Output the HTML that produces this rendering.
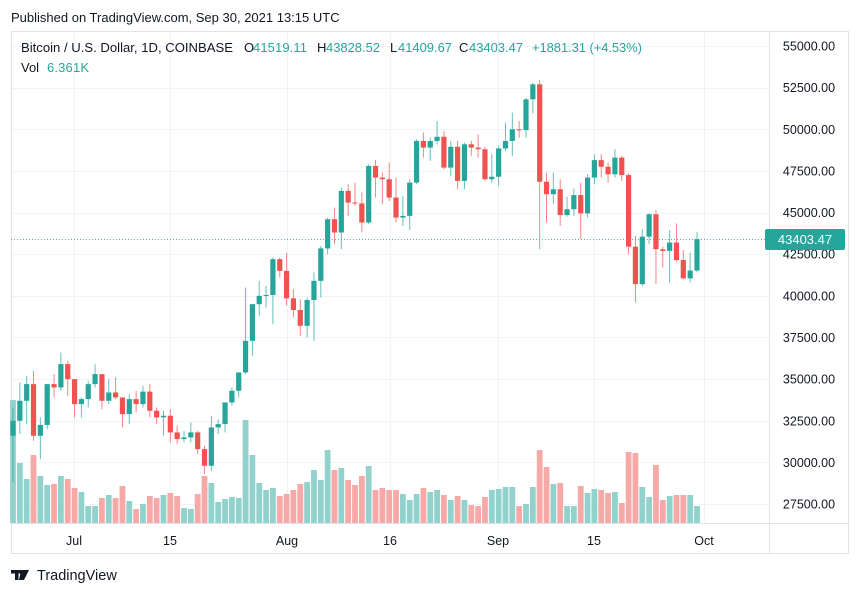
<!DOCTYPE html>
<html><head><meta charset="utf-8"><style>
body{margin:0;background:#fff;width:860px;height:595px;overflow:hidden;font-family:"Liberation Sans","DejaVu Sans",sans-serif;}
svg{position:absolute;left:0;top:0}
</style></head><body>
<svg id="s" width="860" height="595" xmlns="http://www.w3.org/2000/svg" font-family="Liberation Sans, DejaVu Sans, sans-serif">
<text x="11" y="22" font-size="13" fill="#131722">Published on TradingView.com, Sep 30, 2021 13:15 UTC</text>
<g id="grid" stroke="#f0f3fa" stroke-width="1"></g>
<rect x="11.5" y="31.5" width="837" height="522" fill="none" stroke="#e0e3eb"/>
<line x1="769.5" y1="31" x2="769.5" y2="554" stroke="#e0e3eb"/>
<line x1="11" y1="523.5" x2="849" y2="523.5" stroke="#e0e3eb"/>
<line x1="11" y1="239.5" x2="769" y2="239.5" stroke="#26a69a" stroke-dasharray="1,2" opacity="0.8"/>
<g id="vol"></g>
<g id="cdl"></g>
<g font-size="12.5" fill="#131722" id="yl"></g>
<rect x="765" y="229" width="80" height="21" rx="2" fill="#26a69a"/>
<text x="805" y="244" font-size="13" fill="#fff" text-anchor="middle">43403.47</text>
<g font-size="12.5" fill="#131722" text-anchor="middle">
<text x="74" y="545">Jul</text><text x="170" y="545">15</text><text x="287" y="545">Aug</text><text x="390" y="545">16</text><text x="498" y="545">Sep</text><text x="594" y="545">15</text><text x="704" y="545">Oct</text>
</g>
<g font-size="13" fill="#131722">
<text x="21" y="52" textLength="212" lengthAdjust="spacingAndGlyphs">Bitcoin / U.S. Dollar, 1D, COINBASE</text>
<text x="244" y="52">O</text><text x="253" y="52" fill="#26a69a" textLength="54">41519.11</text>
<text x="317" y="52">H</text><text x="326" y="52" fill="#26a69a" textLength="54">43828.52</text>
<text x="390" y="52">L</text><text x="398" y="52" fill="#26a69a" textLength="54">41409.67</text>
<text x="459" y="52">C</text><text x="469" y="52" fill="#26a69a" textLength="54">43403.47</text>
<text x="532" y="52" fill="#26a69a" textLength="110">+1881.31 (+4.53%)</text>
<text x="21" y="72">Vol</text><text x="47" y="72" fill="#26a69a" textLength="42">6.361K</text>
</g>
<g fill="#131722"><rect x="11" y="570" width="10" height="3.5"/><rect x="15" y="570" width="3.5" height="10"/><polygon points="21,570 29,570 24,580 19,580"/></g>
<text x="37" y="580" font-size="14.5" fill="#131722">TradingView</text>
</svg>
<script>
var d=[[31600,33300,28800,32500],[32500,34800,31700,33700],[33700,35200,32300,34700],[34700,35500,31300,31600],[31600,32700,30200,32250],[32250,34700,32000,34700],[34700,35300,33900,34500],[34500,36600,34300,35900],[35900,36100,34000,35000],[35000,35000,32700,33500],[33500,33900,32700,33800],[33800,34900,33300,34700],[34700,35900,34500,35300],[35300,35300,33200,33700],[33700,35000,33500,34200],[34200,35100,33800,33900],[33900,33900,32100,32900],[32900,34100,32300,33800],[33800,34300,33000,33500],[33500,34600,33300,34250],[34250,34700,32700,33100],[33100,33300,32300,32700],[32700,33100,31600,32800],[32800,33200,31200,31800],[31800,32200,31100,31400],[31400,31900,31200,31500],[31500,32400,31200,31800],[31800,31900,30500,30800],[30800,31000,29300,29800],[29800,32800,29500,32100],[32100,32600,31700,32300],[32300,33600,31800,33600],[33600,34500,33400,34300],[34300,35400,33900,35400],[35400,40500,35300,37300],[37300,39500,36400,39500],[39500,40900,38800,40000],[40000,40600,39300,40050],[40050,42300,38300,42200],[42200,42300,41100,41500],[41500,42600,39400,39850],[39850,40400,38700,39150],[39150,39800,37600,38200],[38200,39900,37500,39750],[39750,41400,37300,40900],[40900,43000,39900,42850],[42850,44700,42500,44600],[44600,45300,43100,43800],[43800,46500,42800,46300],[46300,46700,44800,45600],[45600,46800,45400,45550],[45550,46200,43800,44400],[44400,47900,44300,47800],[47800,48150,45900,47100],[47100,47400,45500,47000],[47000,48000,45700,45900],[45900,47100,44400,44700],[44700,46000,44200,44800],[44800,47000,43950,46800],[46800,49400,46700,49300],[49300,49800,48300,48900],[48900,49500,48100,49300],[49300,50500,49100,49550],[49550,49900,47600,47700],[47700,49300,47200,48950],[48950,49300,46400,46900],[46900,49200,46400,49100],[49100,49300,48400,48900],[48900,49700,48300,48800],[48800,48950,46900,47000],[47000,48500,46800,47150],[47150,49000,46600,48850],[48850,50400,48700,49300],[49300,51000,48400,50000],[50000,50500,49500,49950],[49950,51900,49500,51800],[51800,52800,50950,52700],[52700,52950,42800,46850],[46850,47400,44400,46100],[46100,47400,45500,46400],[46400,47000,44200,44850],[44850,45950,44750,45200],[45200,46450,44800,46050],[46050,46800,43400,44950],[44950,47300,44700,47100],[47100,48500,46700,48150],[48150,48500,47100,47750],[47750,48000,46800,47300],[47300,48800,47100,48300],[48300,48400,46900,47250],[47250,47350,42500,42950],[42950,43600,39600,40700],[40700,44000,40600,43550],[43550,44950,43100,44900],[44900,45150,40700,42800],[42800,42950,41700,42700],[42700,43950,40800,43200],[43200,44350,42050,42150],[42150,42750,41000,41050],[41050,42600,40800,41520],[41519,43828,41409,43403]];
var v=[400,463,479,455,476,485,484,476,479,488,492,506,506,498,495,498,486,501,509,504,496,498,495,493,496,508,509,494,476,483,502,499,497,498,420,455,483,490,488,496,494,490,484,482,470,480,450,470,468,480,485,476,466,490,488,490,490,494,500,494,488,492,490,495,500,496,500,505,506,497,490,489,487,487,506,504,487,450,467,484,483,506,506,486,493,489,490,493,492,503,452,453,487,497,465,500,496,495,495,495,506];
function Y(p){return 46+(55000-p)*0.016656;}
var ns="http://www.w3.org/2000/svg";
function el(g,t,a){var e=document.createElementNS(ns,t);for(var k in a)e.setAttribute(k,a[k]);document.getElementById(g).appendChild(e);}
[74,170,287,390,498,594,704].forEach(function(x){el('grid','line',{x1:x+.5,y1:31,x2:x+.5,y2:523});});
for(var i=0;i<12;i++){var p=55000-i*2500,y=Y(p);el('grid','line',{x1:11,y1:Math.round(y)+.5,x2:769,y2:Math.round(y)+.5});var t=document.createElementNS(ns,'text');t.setAttribute('x',809);t.setAttribute('y',y+4.5);t.setAttribute('text-anchor','middle');t.textContent=p.toFixed(2);document.getElementById('yl').appendChild(t);}
for(var i=0;i<d.length;i++){var c=d[i],x=13+i*6.84,up=c[3]>=c[0],col=up?'#26a69a':'#ef5350';
el('vol','rect',{x:x-2.9,y:v[i],width:5.8,height:523-v[i],fill:up?'#92d2cc':'#f7a9a7'});
el('cdl','line',{x1:x,y1:Y(c[1]),x2:x,y2:Y(c[2]),stroke:col,'stroke-width':1,opacity:0.7});
var t=Math.min(Y(c[0]),Y(c[3])),h=Math.max(1,Math.abs(Y(c[0])-Y(c[3])));
el('cdl','rect',{x:x-2.6,y:t,width:5.2,height:h,fill:col});}
</script>
</body></html>
